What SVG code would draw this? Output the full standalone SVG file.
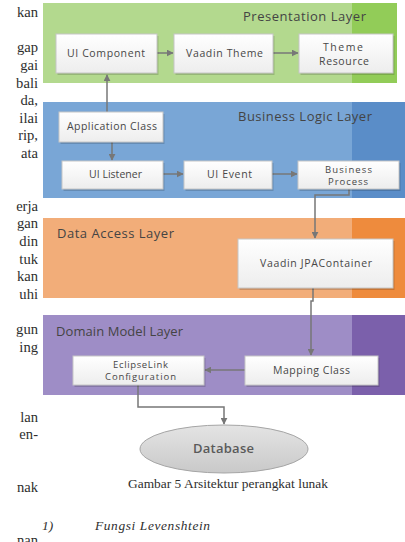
<svg xmlns="http://www.w3.org/2000/svg" width="405" height="542" viewBox="0 0 405 542">
<defs>
<linearGradient id="boxg" x1="0" y1="0" x2="0" y2="1">
<stop offset="0" stop-color="#ffffff"/>
<stop offset="1" stop-color="#ededed"/>
</linearGradient>
<linearGradient id="dbg" x1="0" y1="0" x2="0" y2="1">
<stop offset="0" stop-color="#e4e4e4"/>
<stop offset="1" stop-color="#c9c9c9"/>
</linearGradient>
<marker id="ah" viewBox="0 0 10 10" refX="9" refY="5" markerWidth="7" markerHeight="7" markerUnits="userSpaceOnUse" orient="auto">
<path d="M0,0 L10,5 L0,10 z" fill="#777777"/>
</marker>
<style>
.box{fill:url(#boxg);stroke:#c6c6c6;stroke-width:1}
.sh{fill:#000;opacity:.16}
.bt{font-family:"Open Sans","Liberation Sans",sans-serif;font-size:10.5px;fill:#474747;text-anchor:middle}
.bt2{font-family:"Open Sans","Liberation Sans",sans-serif;font-size:9.5px;fill:#474747;text-anchor:middle}
.lt{font-family:"Open Sans","Liberation Sans",sans-serif;font-size:13px;fill:#444}
.pt{font-family:"Liberation Serif","Times New Roman",serif;font-size:14.6px;fill:#2e2e2e;text-anchor:end}
.cap{font-family:"Liberation Serif","Times New Roman",serif;font-size:13.4px;fill:#2e2e2e}
.con{fill:none;stroke:#777777;stroke-width:1.5;marker-end:url(#ah)}
</style>
</defs>
<rect width="405" height="542" fill="#ffffff"/>

<g id="page-text">
<text class="pt" x="38" y="17">kan</text>
<text class="pt" x="38" y="52">gap</text>
<text class="pt" x="38" y="70">gai</text>
<text class="pt" x="38" y="87.5">bali</text>
<text class="pt" x="38" y="105">da,</text>
<text class="pt" x="38" y="122.5">ilai</text>
<text class="pt" x="38" y="140">rip,</text>
<text class="pt" x="38" y="158">ata</text>
<text class="pt" x="38" y="210.5">erja</text>
<text class="pt" x="38" y="228">gan</text>
<text class="pt" x="38" y="246">din</text>
<text class="pt" x="38" y="263.5">tuk</text>
<text class="pt" x="38" y="281">kan</text>
<text class="pt" x="38" y="298.5">uhi</text>
<text class="pt" x="38" y="334">gun</text>
<text class="pt" x="38" y="351.5">ing</text>
<text class="pt" x="38" y="421.5">lan</text>
<text class="pt" x="38" y="439">en-</text>
<text class="pt" x="38" y="492">nak</text>
<text class="pt" x="38" y="545">nan</text>
<text class="cap" x="42" y="530" font-style="italic" font-size="14.6">1)</text>
<text class="cap" x="95" y="530" font-style="italic" font-size="14.6" textLength="115">Fungsi Levenshtein</text>
<text class="cap" x="128" y="488" textLength="200">Gambar 5 Arsitektur perangkat lunak</text>
</g>

<g id="presentation-layer">
<rect x="43" y="3" width="309" height="80" fill="#b3d98e"/>
<rect x="352" y="3" width="45" height="80" fill="#92cc58"/>
<text class="lt" x="243" y="21" textLength="123">Presentation Layer</text>
</g>
<g id="business-logic-layer">
<rect x="43" y="102" width="309" height="96" fill="#79a6d6"/>
<rect x="352" y="102" width="53" height="96" fill="#5a8dc8"/>
<text class="lt" x="238" y="121" textLength="134">Business Logic Layer</text>
</g>
<g id="data-access-layer">
<rect x="43" y="218" width="309" height="80" fill="#f2ad79"/>
<rect x="352" y="218" width="53" height="80" fill="#ee8b3d"/>
<text class="lt" x="57" y="238" textLength="117">Data Access Layer</text>
</g>
<g id="domain-model-layer">
<rect x="43" y="315" width="309" height="80" fill="#9e8dc6"/>
<rect x="352" y="315" width="53" height="80" fill="#7b60ab"/>
<text class="lt" x="56" y="336" textLength="127">Domain Model Layer</text>
</g>

<g id="connectors">
<path class="con" d="M107,112 V75"/>
<path class="con" d="M157,53 H173"/>
<path class="con" d="M273,53 H298"/>
<path class="con" d="M112,142 V160"/>
<path class="con" d="M163,174 H183"/>
<path class="con" d="M272,174 H297"/>
<path class="con" d="M349,189 V195 H315 V238"/>
<path class="con" d="M313,288 V301 H311 V355"/>
<path class="con" d="M245,370 H205"/>
<path class="con" d="M138,385 V407 H224 V424"/>
</g>

<g id="ui-component">
<rect class="sh" x="57.5" y="36" width="101" height="39"/>
<rect class="box" x="56" y="34" width="101" height="39"/>
<text class="bt" x="106" y="57" textLength="78">UI Component</text>
</g>
<g id="vaadin-theme">
<rect class="sh" x="175.5" y="36" width="99" height="39"/>
<rect class="box" x="174" y="34" width="99" height="39"/>
<text class="bt" x="224.5" y="57" textLength="77">Vaadin Theme</text>
</g>
<g id="theme-resource">
<rect class="sh" x="300.5" y="36" width="94" height="39"/>
<rect class="box" x="299" y="34" width="94" height="39"/>
<text class="bt" x="343" y="51" textLength="40">Theme</text>
<text class="bt" x="344" y="65" textLength="50">Resource</text>
</g>
<g id="application-class">
<rect class="sh" x="60.5" y="114" width="104" height="30"/>
<rect class="box" x="59" y="112" width="104" height="30"/>
<text class="bt" x="112" y="130" textLength="90">Application Class</text>
</g>
<g id="ui-listener">
<rect class="sh" x="63.5" y="163" width="101" height="28"/>
<rect class="box" x="62" y="161" width="101" height="28"/>
<text class="bt" x="115.5" y="178" textLength="53">UI Listener</text>
</g>
<g id="ui-event">
<rect class="sh" x="185.5" y="163" width="88" height="28"/>
<rect class="box" x="184" y="161" width="88" height="28"/>
<text class="bt" x="229.5" y="178" textLength="45">UI Event</text>
</g>
<g id="business-process">
<rect class="sh" x="299.5" y="163" width="101" height="28"/>
<rect class="box" x="298" y="161" width="101" height="28"/>
<text class="bt2" x="348.5" y="172.5" textLength="47">Business</text>
<text class="bt2" x="348" y="185" textLength="40">Process</text>
</g>
<g id="vaadin-jpacontainer">
<rect class="sh" x="239.5" y="241" width="155" height="49"/>
<rect class="box" x="238" y="239" width="155" height="49"/>
<text class="bt" x="316" y="267" textLength="112">Vaadin JPAContainer</text>
</g>
<g id="eclipselink-configuration">
<rect class="sh" x="74.5" y="358" width="131" height="29"/>
<rect class="box" x="73" y="356" width="131" height="29"/>
<text class="bt2" x="140.5" y="367.5" textLength="55">EclipseLink</text>
<text class="bt2" x="140.5" y="380" textLength="71">Configuration</text>
</g>
<g id="mapping-class">
<rect class="sh" x="246.5" y="358" width="133" height="29"/>
<rect class="box" x="245" y="356" width="133" height="29"/>
<text class="bt" x="311.5" y="374" textLength="77">Mapping Class</text>
</g>
<g id="database">
<ellipse cx="224" cy="449" rx="84" ry="24" fill="url(#dbg)" stroke="#a5a5a5" stroke-width="1"/>
<text x="223.5" y="453" text-anchor="middle" font-family="'Open Sans','Liberation Sans',sans-serif" font-size="13" font-weight="600" fill="#5a5a5a" textLength="61">Database</text>
</g>
</svg>
